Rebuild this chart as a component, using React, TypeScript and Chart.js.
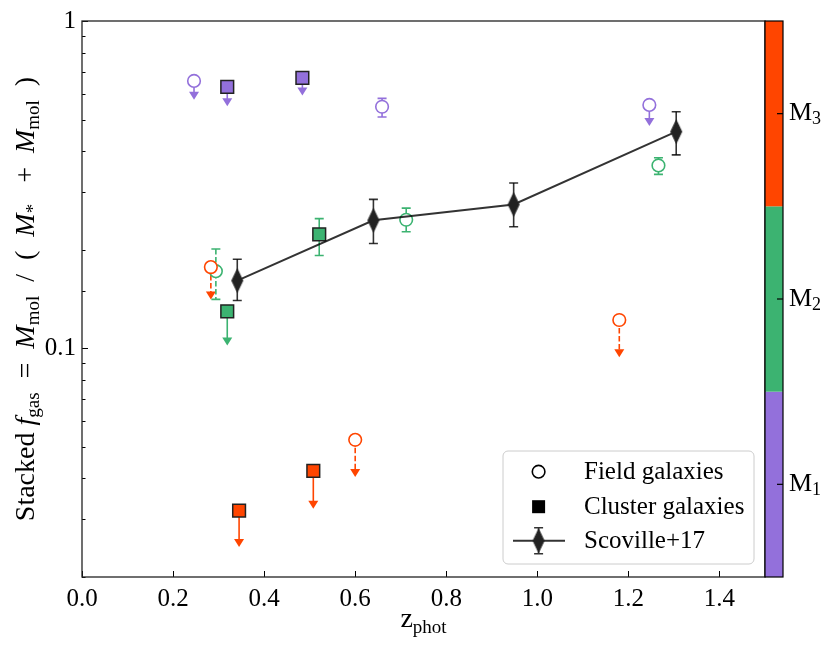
import { useEffect, useRef } from 'react';
import { Chart, registerables } from 'chart.js';

Chart.register(...registerables);

// mass bins of the colour bar
const binLabels = ['1', '2', '3'];
const binColors = ['#9370DB', '#3CB371', '#FF4500'];

// M1 (purple)
const m1FieldZ = [0.246, 0.659, 1.246];
const m1FieldF = [0.656, 0.547, 0.554];
const m1FieldLo = [0.575, 0.509, 0.478];
const m1FieldHi = [0.656, 0.58, 0.554];
const m1FieldLimit = [true, false, true];
const m1ClusterZ = [0.319, 0.484];
const m1ClusterF = [0.629, 0.67];
const m1ClusterLo = [0.549, 0.592];
const m1ClusterHi = [0.629, 0.67];
const m1ClusterLimit = [true, true];

// M2 (green)
const m2FieldZ = [0.294, 0.712, 1.266];
const m2FieldF = [0.172, 0.247, 0.362];
const m2FieldLo = [0.141, 0.227, 0.34];
const m2FieldHi = [0.201, 0.268, 0.382];
const m2FieldLimit = [false, false, false];
const m2ClusterZ = [0.319, 0.521];
const m2ClusterF = [0.1297, 0.223];
const m2ClusterLo = [0.102, 0.192];
const m2ClusterHi = [0.1297, 0.249];
const m2ClusterLimit = [true, false];

// M3 (orange)
const m3FieldZ = [0.283, 0.6, 1.18];
const m3FieldF = [0.177, 0.0525, 0.122];
const m3FieldLo = [0.141, 0.0404, 0.0939];
const m3FieldHi = [0.177, 0.0525, 0.122];
const m3FieldLimit = [true, true, true];
const m3ClusterZ = [0.345, 0.508];
const m3ClusterF = [0.0319, 0.0422];
const m3ClusterLo = [0.0247, 0.0323];
const m3ClusterHi = [0.0319, 0.0422];
const m3ClusterLimit = [true, true];

// Scoville+17
const scovilleZ = [0.341, 0.64, 0.948, 1.305];
const scovilleF = [0.161, 0.246, 0.275, 0.459];
const scovilleLo = [0.14, 0.209, 0.235, 0.39];
const scovilleHi = [0.187, 0.285, 0.32, 0.528];
const scovilleLimit = [false, false, false, false];

const legendLabels = ['Field galaxies', 'Cluster galaxies', 'Scoville+17'];

const SERIF = "'Liberation Serif', 'Times New Roman', serif";
const LINE = 'rgba(0,0,0,0.8)';

const pts = (z: number[], f: number[], lo: number[], hi: number[], lim: boolean[]) =>
  z.map((v, i) => ({ x: v, y: f[i], lo: lo[i], hi: hi[i], limit: lim[i] }));

function makeDiamond() {
  const c = document.createElement('canvas');
  c.width = 14;
  c.height = 26;
  const g = c.getContext('2d')!;
  g.fillStyle = '#222';
  g.strokeStyle = '#222';
  g.lineWidth = 1;
  g.beginPath();
  g.moveTo(7, 1.5);
  g.lineTo(12.5, 13);
  g.lineTo(7, 24.5);
  g.lineTo(1.5, 13);
  g.closePath();
  g.fill();
  g.stroke();
  return c;
}

type Part = { t: string; f: string; dy?: number };

function richWidth(ctx: CanvasRenderingContext2D, parts: Part[]) {
  let w = 0;
  for (const p of parts) {
    ctx.font = p.f;
    w += ctx.measureText(p.t).width;
  }
  return w;
}

function drawRich(ctx: CanvasRenderingContext2D, parts: Part[], x: number, y: number) {
  let cx = x;
  for (const p of parts) {
    ctx.font = p.f;
    ctx.fillText(p.t, cx, y + (p.dy || 0));
    cx += ctx.measureText(p.t).width;
  }
}

const R = `26px ${SERIF}`;
const S = `18px ${SERIF}`;
const LR = `28px ${SERIF}`;
const LI = `italic 28px ${SERIF}`;
const LS = `19px ${SERIF}`;

const errorBars = {
  id: 'errorBars',
  beforeDatasetsDraw(chart: any) {
    const { ctx, scales } = chart;
    const x = scales.x;
    const y = scales.y;
    chart.data.datasets.forEach((ds: any) => {
      ds.data.forEach((p: any, i: number) => {
        const px = x.getPixelForValue(p.x);
        const py = y.getPixelForValue(p.y);
        const pLo = y.getPixelForValue(p.lo);
        ctx.save();
        ctx.strokeStyle = ds.errColor;
        ctx.fillStyle = ds.errColor;
        ctx.lineWidth = 1.6;
        ctx.setLineDash(ds.errDash && ds.errDash[i] ? [5.5, 2.5] : []);
        if (p.limit) {
          ctx.beginPath();
          ctx.moveTo(px, py);
          ctx.lineTo(px, pLo - 6);
          ctx.stroke();
          ctx.setLineDash([]);
          ctx.beginPath();
          ctx.moveTo(px - 5, pLo - 8);
          ctx.lineTo(px + 5, pLo - 8);
          ctx.lineTo(px, pLo);
          ctx.closePath();
          ctx.fill();
        } else {
          const pHi = y.getPixelForValue(p.hi);
          ctx.beginPath();
          ctx.moveTo(px, pHi);
          ctx.lineTo(px, pLo);
          ctx.stroke();
          ctx.setLineDash([]);
          ctx.beginPath();
          ctx.moveTo(px - 4.5, pHi);
          ctx.lineTo(px + 4.5, pHi);
          ctx.moveTo(px - 4.5, pLo);
          ctx.lineTo(px + 4.5, pLo);
          ctx.stroke();
        }
        ctx.restore();
      });
    });
  },
};

const decorations = {
  id: 'decorations',
  afterDraw(chart: any) {
    const { ctx, chartArea: a, scales } = chart;
    const x = scales.x;
    const y = scales.y;
    ctx.save();

    // inward ticks
    ctx.strokeStyle = '#000';
    ctx.lineWidth = 1;
    ctx.beginPath();
    x.ticks.forEach((t: any) => {
      const px = Math.round(x.getPixelForValue(t.value)) + 0.5;
      ctx.moveTo(px, a.bottom);
      ctx.lineTo(px, a.bottom - 6);
    });
    y.ticks.forEach((t: any) => {
      const v = t.value;
      const major = Math.abs(Math.log10(v) - Math.round(Math.log10(v))) < 1e-6;
      const py = Math.round(y.getPixelForValue(v)) + 0.5;
      ctx.moveTo(a.left, py);
      ctx.lineTo(a.left + (major ? 6 : 3.5), py);
    });
    ctx.stroke();

    // frame
    ctx.lineWidth = 1.3;
    ctx.strokeStyle = '#222';
    ctx.strokeRect(a.left, a.top, a.right - a.left, a.bottom - a.top);

    // colour bar
    const cbL = a.right;
    const cbW = 18;
    const h = (a.bottom - a.top) / binColors.length;
    binColors.forEach((c, i) => {
      const top = a.bottom - (i + 1) * h;
      ctx.fillStyle = c;
      ctx.fillRect(cbL, top, cbW, h);
    });
    ctx.strokeStyle = '#000';
    ctx.lineWidth = 1.2;
    ctx.strokeRect(cbL, a.top, cbW, a.bottom - a.top);
    ctx.fillStyle = '#000';
    ctx.textBaseline = 'middle';
    ctx.textAlign = 'left';
    binLabels.forEach((l, i) => {
      const cy = a.bottom - (i + 0.5) * h;
      ctx.beginPath();
      ctx.moveTo(cbL + cbW, cy);
      ctx.lineTo(cbL + cbW - 6, cy);
      ctx.stroke();
      drawRich(ctx, [{ t: 'M', f: R }, { t: l, f: S, dy: 6 }], cbL + cbW + 6, cy);
    });

    // axis titles
    ctx.textBaseline = 'alphabetic';
    const xParts: Part[] = [{ t: 'z', f: LR }, { t: 'phot', f: LS, dy: 6 }];
    const xw = richWidth(ctx, xParts);
    drawRich(ctx, xParts, (a.left + a.right) / 2 - xw / 2, 627);

    const yParts: Part[] = [
      { t: 'Stacked ', f: LR },
      { t: 'f', f: LI },
      { t: 'gas', f: LS, dy: 5 },
      { t: '  =  ', f: LR },
      { t: 'M', f: LI },
      { t: 'mol', f: LS, dy: 5 },
      { t: '  /  (  ', f: LR },
      { t: 'M', f: LI },
      { t: '*', f: LS, dy: 5 },
      { t: '   +  ', f: LR },
      { t: 'M', f: LI },
      { t: 'mol', f: LS, dy: 5 },
      { t: '  )', f: LR },
    ];
    const yw = richWidth(ctx, yParts);
    ctx.save();
    ctx.translate(34, (a.top + a.bottom) / 2);
    ctx.rotate(-Math.PI / 2);
    drawRich(ctx, yParts, -yw / 2, 0);
    ctx.restore();

    // legend
    const lx = 503;
    const ly = 451;
    const lw = 251;
    const lh = 113;
    ctx.beginPath();
    ctx.roundRect(lx, ly, lw, lh, 5);
    ctx.fillStyle = 'rgba(255,255,255,0.8)';
    ctx.fill();
    ctx.strokeStyle = '#cccccc';
    ctx.lineWidth = 1;
    ctx.stroke();
    const rows = [471.7, 506.7, 540.7];
    const mx = 538.6;
    ctx.lineWidth = 1.6;
    ctx.strokeStyle = '#000';
    ctx.fillStyle = '#fff';
    ctx.beginPath();
    ctx.arc(mx, rows[0], 6.3, 0, Math.PI * 2);
    ctx.fill();
    ctx.stroke();
    ctx.fillStyle = '#000';
    ctx.fillRect(mx - 6.5, rows[1] - 6.5, 13, 13);
    ctx.strokeStyle = LINE;
    ctx.lineWidth = 2;
    ctx.beginPath();
    ctx.moveTo(513, rows[2]);
    ctx.lineTo(565, rows[2]);
    ctx.stroke();
    ctx.lineWidth = 1.6;
    ctx.beginPath();
    ctx.moveTo(mx, rows[2] - 13);
    ctx.lineTo(mx, rows[2] + 13);
    ctx.moveTo(mx - 4.5, rows[2] - 13);
    ctx.lineTo(mx + 4.5, rows[2] - 13);
    ctx.moveTo(mx - 4.5, rows[2] + 13);
    ctx.lineTo(mx + 4.5, rows[2] + 13);
    ctx.stroke();
    const d = chart.$diamond as HTMLCanvasElement;
    if (d) ctx.drawImage(d, mx - d.width / 2, rows[2] - d.height / 2);
    ctx.fillStyle = '#000';
    ctx.font = `25px ${SERIF}`;
    ctx.textBaseline = 'middle';
    legendLabels.forEach((l, i) => ctx.fillText(l, 584, rows[i] + 1));

    ctx.restore();
  },
};

export default function App() {
  const ref = useRef<HTMLCanvasElement>(null);

  useEffect(() => {
    if (!ref.current) return;
    document.body.style.margin = '0';
    const diamond = makeDiamond();

    const field = (data: any[], color: string, dash: boolean[]) => ({
      data,
      errColor: color,
      errDash: dash,
      pointStyle: 'circle',
      pointRadius: 6.3,
      pointBorderWidth: 1.6,
      pointBorderColor: color,
      pointBackgroundColor: '#fff',
      showLine: false,
    });
    const cluster = (data: any[], color: string) => ({
      data,
      errColor: color,
      errDash: [],
      pointStyle: 'rect',
      pointRadius: 9,
      pointBorderWidth: 1.5,
      pointBorderColor: '#222',
      pointBackgroundColor: color,
      showLine: false,
    });

    const chart = new Chart(ref.current, {
      type: 'scatter',
      data: {
        datasets: [
          {
            data: pts(scovilleZ, scovilleF, scovilleLo, scovilleHi, scovilleLimit),
            errColor: LINE,
            errDash: [],
            showLine: true,
            borderColor: LINE,
            borderWidth: 2,
            pointStyle: diamond,
          } as any,
          field(pts(m3FieldZ, m3FieldF, m3FieldLo, m3FieldHi, m3FieldLimit), binColors[2], [true, true, true]),
          cluster(pts(m3ClusterZ, m3ClusterF, m3ClusterLo, m3ClusterHi, m3ClusterLimit), binColors[2]),
          field(pts(m2FieldZ, m2FieldF, m2FieldLo, m2FieldHi, m2FieldLimit), binColors[1], [true, false, false]),
          cluster(pts(m2ClusterZ, m2ClusterF, m2ClusterLo, m2ClusterHi, m2ClusterLimit), binColors[1]),
          field(pts(m1FieldZ, m1FieldF, m1FieldLo, m1FieldHi, m1FieldLimit), binColors[0], [false, false, false]),
          cluster(pts(m1ClusterZ, m1ClusterF, m1ClusterLo, m1ClusterHi, m1ClusterLimit), binColors[0]),
        ] as any,
      },
      options: {
        animation: false,
        responsive: false,
        layout: { padding: { left: 0, top: 18, right: 65, bottom: 0 } },
        plugins: { legend: { display: false }, tooltip: { enabled: false } },
        scales: {
          x: {
            type: 'linear',
            min: 0,
            max: 1.5,
            grid: { display: false, drawTicks: false },
            border: { display: false },
            ticks: {
              stepSize: 0.2,
              includeBounds: false,
              autoSkip: false,
              maxRotation: 0,
              padding: 7,
              color: '#000',
              font: { family: SERIF, size: 25 },
              callback: (v: any) => Number(v).toFixed(1),
            },
            afterFit: (s: any) => {
              s.height = 70;
            },
          },
          y: {
            type: 'logarithmic',
            min: 0.02,
            max: 1,
            grid: { display: false, drawTicks: false },
            border: { display: false },
            ticks: {
              autoSkip: false,
              padding: 6,
              color: '#000',
              font: { family: SERIF, size: 25 },
              callback: (v: any) => {
                const n = Number(v);
                if (Math.abs(n - 1) < 1e-9) return '1';
                if (Math.abs(n - 0.1) < 1e-9) return '0.1';
                return '';
              },
            },
            afterFit: (s: any) => {
              s.width = 82;
            },
          },
        },
      } as any,
      plugins: [errorBars, decorations],
    });
    (chart as any).$diamond = diamond;
    chart.draw();

    return () => chart.destroy();
  }, []);

  return (
    <div style={{ width: 830, height: 647 }}>
      <canvas ref={ref} width={830} height={647} style={{ width: 830, height: 647 }} />
    </div>
  );
}
